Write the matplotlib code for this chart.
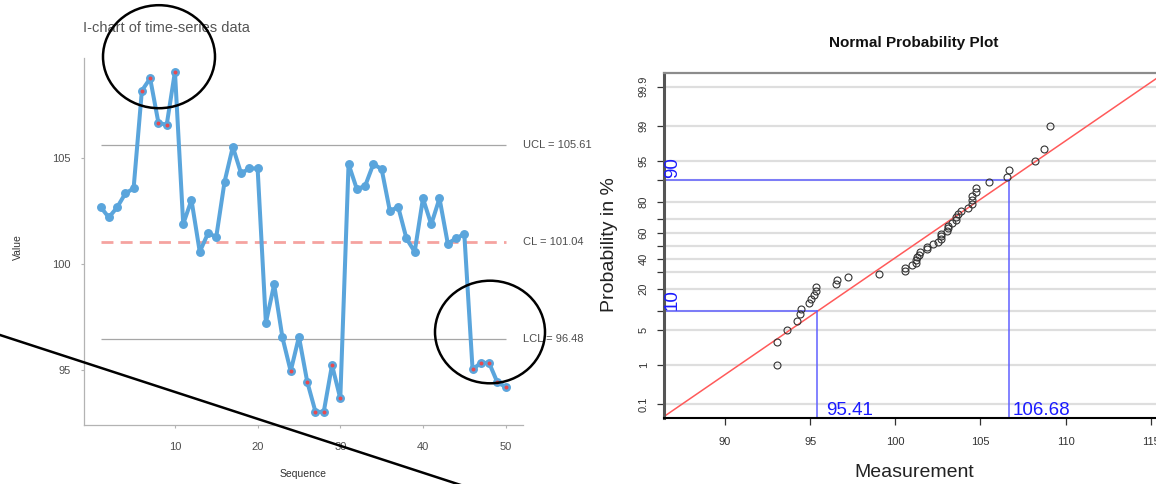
import matplotlib
matplotlib.use("Agg")
import matplotlib.pyplot as plt
from matplotlib.patches import Ellipse
from matplotlib.lines import Line2D
from matplotlib.transforms import blended_transform_factory
from statistics import NormalDist
import numpy as np

plt.rcParams['font.family'] = ['Liberation Sans', 'DejaVu Sans']
plt.rcParams['lines.scale_dashes'] = False

# ---- data ----
sequence = list(range(1, 51))
values = [102.70, 102.20, 102.67, 103.33, 103.57, 108.18, 108.76, 106.67, 106.56, 109.07,
          101.89, 103.02, 100.58, 101.45, 101.29, 103.88, 105.53, 104.28, 104.51, 104.51,
          97.23, 99.04, 96.54, 94.95, 96.57, 94.45, 93.03, 93.03, 95.24, 93.66,
          104.72, 103.54, 103.68, 104.72, 104.48, 102.50, 102.70, 101.21, 100.58, 103.10,
          101.87, 103.10, 100.97, 101.21, 101.42, 95.03, 95.34, 95.34, 94.42, 94.21]
ucl = 105.61
cl = 101.04
lcl = 96.48

i_xticks = [10, 20, 30, 40, 50]
i_yticks = [95, 100, 105]

prob_ticks = [0.1, 1, 5, 10, 20, 30, 40, 50, 60, 70, 80, 90, 95, 99, 99.9]
prob_labels = ['0.1', '1', '5', '', '20', '', '40', '', '60', '', '80', '', '95', '99', '99.9']
meas_ticks = [90, 95, 100, 105, 110, 115]
lower_pct, lower_q = 10, 95.41
upper_pct, upper_q = 90, 106.68

W, H = 1156, 484
fig = plt.figure(figsize=(W / 100, H / 100), dpi=100)


def fx(px):
    return px / W


def fy(py):
    return 1 - py / H


# ---- I-chart ----
ax1 = fig.add_axes([fx(84), fy(425), fx(523) - fx(84), (425 - 58) / H])
ax1.set_xlim(-1.0, 52.1)
ax1.set_ylim(92.41, 109.72)

blue = '#5aa5dc'
red = '#e84a4f'
ax1.hlines([ucl, lcl], 1, 50, color='#a6a6a6', lw=0.9, zorder=1)
ax1.plot([1, 50], [cl, cl], color='#f5a3a0', lw=2.0, dashes=(8.6, 5.2), zorder=1)
ax1.plot(sequence, values, color=blue, lw=2.9, marker='o', ms=5.4,
         solid_joinstyle='round', zorder=3)
out_x = [s for s, v in zip(sequence, values) if v > ucl or v < lcl]
out_y = [v for v in values if v > ucl or v < lcl]
ax1.scatter(out_x, out_y, s=8, color=red, zorder=4, linewidths=0)

tr = blended_transform_factory(ax1.transAxes, ax1.transData)
for lab, val in [('UCL', ucl), ('CL', cl), ('LCL', lcl)]:
    ax1.text(1.0, val, f'{lab} = {val:.2f}', transform=tr, ha='left', va='center',
             fontsize=8, color='#4d4d4d')

for s in ['top', 'right']:
    ax1.spines[s].set_visible(False)
for s in ['left', 'bottom']:
    ax1.spines[s].set_color('#b3b3b3')
    ax1.spines[s].set_linewidth(0.9)
ax1.set_xticks(i_xticks)
ax1.set_yticks(i_yticks)
ax1.tick_params(axis='both', length=2.5, width=0.8, color='#b3b3b3',
                labelsize=8, labelcolor='#4d4d4d')
ax1.tick_params(axis='x', pad=10)
ax1.tick_params(axis='y', pad=7)

fig.text(fx(83), fy(31.5), 'I-chart of time-series data', ha='left', va='baseline',
         fontsize=10.5, color='#555555')
fig.text(fx(18), fy(247), 'Value', rotation=90, ha='center', va='center',
         fontsize=7.5, color='#333333')
fig.text(fx(303), fy(474), 'Sequence', ha='center', va='center',
         fontsize=7.5, color='#333333')

# ---- normal probability plot ----
nd = NormalDist()
ax2 = fig.add_axes([fx(664), fy(417.5), fx(1162) - fx(664), (417.5 - 73.3) / H])
xlo, xhi = 86.42, 115.66
ax2.set_xlim(xlo, xhi)
ax2.set_ylim(-3.345, 3.35)

tick_z = [nd.inv_cdf(p / 100) for p in prob_ticks]
ax2.hlines(tick_z, xlo, xhi, color='#dedede', lw=1.6, zorder=0)

z_lo = nd.inv_cdf(lower_pct / 100)
z_hi = nd.inv_cdf(upper_pct / 100)
mu = (lower_q + upper_q) / 2
sd = (upper_q - lower_q) / (z_hi - z_lo)
xs = np.array([xlo, xhi])
ax2.plot(xs, (xs - mu) / sd, color='#ff5a5a', lw=1.1, zorder=2)

ordered = sorted(values)
n = len(ordered)
pp_z = [nd.inv_cdf((i - 0.5) / n) for i in range(1, n + 1)]
ax2.plot(ordered, pp_z, linestyle='none', marker='o', ms=5, mfc='none',
         mec='#333333', mew=0.8, zorder=3)

line_blue = '#6060ff'
for q, z, pct in [(lower_q, z_lo, lower_pct), (upper_q, z_hi, upper_pct)]:
    ax2.plot([xlo, q], [z, z], color=line_blue, lw=1.1, zorder=2)
    ax2.plot([q, q], [-3.345, z], color=line_blue, lw=1.1, zorder=2)
    ax2.annotate(f'{pct}', xy=(xlo, z), xytext=(0, 1), textcoords='offset points',
                 rotation=90, ha='left', va='bottom', fontsize=13.5, color='#1a1aff')
    ax2.annotate(f'{q:.2f}', xy=(q, -3.345), xytext=(23.6, 1.5),
                 textcoords='offset points', ha='center', va='baseline',
                 fontsize=13.5, color='#1a1aff')

ax2.set_yticks(tick_z)
ax2.set_yticklabels(prob_labels, rotation=90, va='center')
ax2.set_xticks(meas_ticks)
ax2.tick_params(axis='both', length=5, width=0.9, color='#333333',
                labelsize=8, labelcolor='#333333')
ax2.tick_params(axis='x', pad=9)
ax2.tick_params(axis='y', pad=6)

ax2.spines['top'].set_color('#8c8c8c')
ax2.spines['top'].set_linewidth(1.6)
ax2.spines['left'].set_color('#555555')
ax2.spines['left'].set_linewidth(2.2)
ax2.spines['bottom'].set_color('black')
ax2.spines['bottom'].set_linewidth(1.5)
ax2.spines['right'].set_visible(False)

fig.text(fx(913.8), fy(42.7), 'Normal Probability Plot', ha='center', va='center',
         fontsize=11, fontweight='bold', color='#111111')
fig.text(fx(609), fy(245), 'Probability in %', rotation=90, ha='center', va='center',
         fontsize=14, color='#222222')
fig.text(fx(913.8), fy(476.7), 'Measurement', ha='center', va='baseline',
         fontsize=14, color='#222222')

# ---- hand-drawn markup ----
for cx, cy, w, h in [(159, 56.7, 112, 103), (490, 332, 110, 102.6)]:
    fig.add_artist(Ellipse((fx(cx), fy(cy)), w / W, h / H, transform=fig.transFigure,
                           fill=False, edgecolor='black', lw=1.8, zorder=10))
fig.add_artist(Line2D([fx(-5), fx(470)], [fy(335 - 5 * 0.3256), fy(335 + 470 * 0.3256)],
                      transform=fig.transFigure, color='black', lw=1.8, zorder=10))

fig.savefig('out.png', dpi=100)
